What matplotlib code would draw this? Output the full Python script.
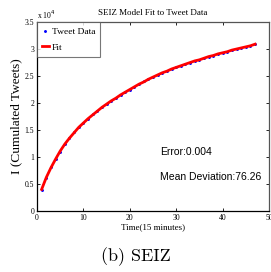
import matplotlib
matplotlib.use("Agg")
import matplotlib.pyplot as plt

# Data (cumulated tweets, units of 1e4)
time_steps = list(range(1, 48))
tweet_data = [0.39, 0.61, 0.81, 0.97, 1.10, 1.24, 1.35, 1.46, 1.55, 1.63,
              1.71, 1.79, 1.85, 1.92, 1.98, 2.04, 2.10, 2.15, 2.20, 2.25,
              2.30, 2.35, 2.40, 2.44, 2.48, 2.52, 2.56, 2.60, 2.63, 2.66,
              2.69, 2.72, 2.75, 2.78, 2.80, 2.83, 2.86, 2.88, 2.91, 2.93,
              2.95, 2.98, 3.00, 3.02, 3.04, 3.06, 3.10]
fit_values = [0.40, 0.62, 0.80, 0.96, 1.11, 1.24, 1.35, 1.45, 1.55, 1.63,
              1.71, 1.78, 1.85, 1.92, 1.98, 2.04, 2.09, 2.15, 2.20, 2.25,
              2.30, 2.35, 2.39, 2.44, 2.48, 2.52, 2.56, 2.59, 2.63, 2.66,
              2.69, 2.72, 2.75, 2.78, 2.80, 2.83, 2.86, 2.88, 2.91, 2.93,
              2.95, 2.98, 3.00, 3.02, 3.04, 3.06, 3.09]
scale = 1e4
x_ticks = [0, 10, 20, 30, 40, 50]
y_ticks = [0, 0.5, 1, 1.5, 2, 2.5, 3, 3.5]
y_tick_labels = ["0", "0.5", "1", "1.5", "2", "2.5", "3", "3.5"]

serif = ["Liberation Serif", "DejaVu Serif"]
sans = ["Liberation Sans", "DejaVu Sans"]

fig = plt.figure(figsize=(2.71, 2.72), dpi=100)
ax = fig.add_axes([0.1365, 0.2243, 0.8561, 0.6947])

ax.plot(time_steps, [v * scale for v in tweet_data], ".", color="blue",
        markersize=2.2, label="Tweet Data", zorder=2)
ax.plot(time_steps, [v * scale for v in fit_values], "-", color="red",
        linewidth=2, label="Fit", zorder=3)

ax.set_xlim(0, 50)
ax.set_ylim(0, 3.5 * scale)
ax.set_xticks(x_ticks)
ax.set_xticklabels([str(t) for t in x_ticks], family=serif, fontsize=5.5)
ax.set_yticks([v * scale for v in y_ticks])
ax.set_yticklabels(y_tick_labels, family=serif, fontsize=5.5)
ax.tick_params(direction="in", length=2, width=0.6, top=True, right=True, pad=2)

for s in ["left", "bottom"]:
    ax.spines[s].set_color("black")
    ax.spines[s].set_linewidth(0.9)
for s in ["top", "right"]:
    ax.spines[s].set_color("#555555")
    ax.spines[s].set_linewidth(0.9)

ax.text(0.0, 1.005, r"x 10$^4$", transform=ax.transAxes, family=serif,
        fontsize=5.5, ha="left", va="bottom")
ax.set_title("SEIZ Model Fit to Tweet Data", family=serif, fontsize=6.5, pad=5)
ax.set_xlabel("Time(15 minutes)", family=serif, fontsize=6.5, labelpad=1)
ax.set_ylabel("I (Cumulated Tweets)", family=serif, fontsize=9.5, labelpad=2)

leg = ax.legend(loc="upper left", prop={"family": serif, "size": 6.8},
                borderaxespad=0.0, frameon=True, fancybox=False,
                handlelength=0.7, handletextpad=0.3, borderpad=0.55,
                labelspacing=0.75, markerscale=1.0)
leg.get_frame().set_edgecolor("#555555")
leg.get_frame().set_linewidth(0.8)

ax.text(0.53, 0.31, "Error:0.004", transform=ax.transAxes, family=sans,
        fontsize=7.5, ha="left", va="center")
ax.text(0.53, 0.18, "Mean Deviation:76.26", transform=ax.transAxes,
        family=sans, fontsize=7.5, ha="left", va="center")

fig.text(0.5, 0.055, "(b) SEIZ", family=["cmr10", "DejaVu Serif"],
         fontsize=13, ha="center", va="center")

fig.savefig("out.png", dpi=100)
